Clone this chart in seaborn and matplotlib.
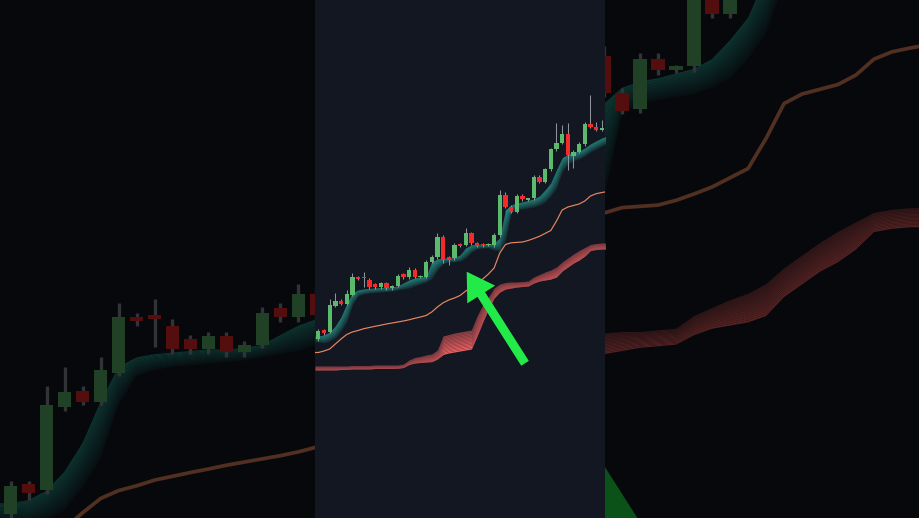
import numpy as np
import matplotlib
matplotlib.use("Agg")
import matplotlib.pyplot as plt
import seaborn as sns
from matplotlib.patches import FancyArrow, Rectangle
from matplotlib.transforms import IdentityTransform

sns.set_theme(style="dark")
plt.rcParams['font.family'] = ['DejaVu Sans']

# ---------------- data (price units) ----------------
opens = [178.7, 188.0, 186.3, 212.3, 217.3, 214.0, 223.0, 240.7, 241.5, 238.0,
         233.7, 230.7, 234.7, 229.7, 232.0, 243.7, 240.7, 248.0, 241.0, 241.3,
         256.3, 260.7, 280.7, 260.7, 259.7, 273.7, 273.0, 284.7, 274.7, 273.5,
         273.2, 273.0, 283.0, 323.0, 311.3, 306.3, 322.0, 318.5, 319.7, 341.3,
         336.3, 348.7, 368.7, 375.3, 383.7, 362.0, 366.3, 374.0, 394.0, 391.3,
         388.5, 388.0]
closes = [187.3, 185.3, 213.0, 217.0, 214.0, 224.0, 240.7, 239.3, 240.0, 230.7,
          230.7, 234.7, 229.7, 232.0, 242.0, 240.7, 248.0, 241.3, 241.7, 256.3,
          261.3, 280.7, 258.0, 258.0, 273.0, 272.3, 284.7, 274.7, 272.0, 272.8,
          274.0, 283.0, 323.0, 311.3, 305.7, 322.0, 318.7, 319.0, 341.3, 336.3,
          348.7, 368.7, 375.3, 383.7, 363.0, 366.3, 374.0, 394.0, 391.3, 388.0,
          389.0, 385.0]
highs = [189, 189, 219, 225, 219, 228, 245, 242, 246.3, 240,
         235, 236, 236, 233, 244, 245, 251, 250, 243, 258,
         263, 284.7, 283, 262, 275, 275, 289.7, 286, 276, 275,
         275, 285, 328, 326, 313, 324, 324, 320, 343, 343,
         350, 370, 394.7, 393, 394.7, 368, 376, 396, 423, 396.3,
         398, 390]
lows = [177, 183, 185, 211, 213, 213, 222, 238, 231.3, 229,
        229, 229, 228, 228, 231, 239, 239, 240, 240, 240,
        255, 259, 254.7, 253, 258, 271, 272, 273, 271, 271.5,
        272, 271, 281, 310, 304.7, 305, 317, 317.5, 318, 335,
        335, 347, 367, 374, 348, 349.7, 365, 372, 390, 387,
        387, 383]

teal_top = [182, 183, 186, 192, 201, 214, 225, 228, 229, 229.5,
            230, 230.5, 230.5, 231, 232, 235, 238, 240, 241, 241.5,
            256, 259, 260, 260, 260.5, 263, 270, 273, 273.5, 274,
            274, 275, 280, 308, 313, 315, 316, 317.5, 319, 322,
            328, 335, 348, 360, 364, 365.5, 367, 370, 374, 377,
            380, 382]
teal_bot = [176, 175, 177, 180, 187, 196, 213, 222, 224, 225,
            225.5, 226, 226.5, 227, 228, 229, 230, 232, 234, 236,
            239, 248, 254, 256, 256, 257, 260, 266, 269, 270,
            270, 268, 267, 278, 305, 308, 309, 310, 311, 313,
            316, 322, 330, 346, 354, 357, 359, 362, 366, 369,
            372, 375]

orange_line = [165.5, 167, 169, 174, 179, 183.5, 186, 187.5, 189.3, 190.5,
               191.7, 192.8, 194, 195, 196, 197, 198.2, 199.7, 201, 202.5,
               206, 211, 215.2, 218, 220, 222.5, 227, 230.5, 234.5, 239,
               244, 250, 265, 273.5, 275.2, 275.6, 276, 277.5, 279.5, 281.7,
               284.6, 287.5, 297, 308, 311, 312.5, 314, 317, 322, 324.3,
               325.5, 326.5]

red_top = [152, 152, 152, 152, 152, 152, 152.5, 152.5, 152.5, 152.5,
           153, 153, 153, 153, 153, 154, 158, 160.5, 161.5, 163,
           164, 168, 182, 183.5, 185, 186, 187, 188, 202, 213,
           221, 230, 234, 235.5, 236, 236, 236.5, 237, 241, 243.5,
           246, 248, 251, 256, 260, 264, 267.5, 270.5, 273.5, 274.5,
           275, 275]
red_bot = [148, 148, 148, 148, 148.5, 148.5, 149, 149, 149, 149,
           149.5, 149.5, 149.5, 149.5, 149.7, 150.5, 153.5, 155, 155.5, 156,
           156.3, 159, 163.5, 165, 166, 167, 168, 169, 182, 196,
           209, 220, 226, 229, 230, 231, 231.5, 232, 235, 237,
           238, 239, 241, 247, 251, 255, 258, 262, 267.5, 268.5,
           269, 269]

# annotation arrow (bar index, price): tail -> tip
arrow_tail = (36.45, 154.7)
arrow_tip = (26.17, 246.3)

# ---------------- styling ----------------
BG = '#131722'
GREEN = '#5cba6c'
RED = '#f52a2a'
WICK = '#8d929b'
TEAL = '#29a596'
SALMON = '#f26262'
ORANGE = '#e8875f'
ARROW = '#22ea48'

W, H = 920, 518
PANEL_L, PANEL_W = 315, 290
SCALE = W / PANEL_W
X_LIM = (-0.59, 50.56)
Y_LIM = (0, 518)
vis = H / SCALE
mid = (Y_LIM[0] + Y_LIM[1]) / 2
BG_Y_LIM = (mid - vis / 2, mid + vis / 2)

idx = np.arange(len(opens))
o = np.array(opens); c = np.array(closes)
hi = np.array(highs); lo = np.array(lows)

# indicator series are carried flat to the left edge of the panel
x_ext = np.r_[X_LIM[0], idx]


def ext(v):
    v = np.asarray(v, float)
    return np.r_[v[0], v]


def grad_band(ax, x, top, bot, color, a_top, a_bot, n=14, z=2):
    top = np.asarray(top, float); bot = np.asarray(bot, float)
    for k in range(n):
        y0 = top + (bot - top) * k / n
        y1 = top + (bot - top) * (k + 1) / n
        a = a_top + (a_bot - a_top) * (k + 0.5) / n
        ax.fill_between(x, y0, y1, color=color, alpha=a, lw=0, zorder=z)


def style(ax):
    ax.set_facecolor(BG)
    ax.grid(False)
    ax.tick_params(left=False, bottom=False, labelleft=False, labelbottom=False)
    for s in ax.spines.values():
        s.set_visible(False)
    ax.set_xlabel(''); ax.set_ylabel('')


def draw(ax, k):
    grad_band(ax, x_ext, ext(teal_top), ext(teal_bot), TEAL, 0.9, 0.12, z=2)
    grad_band(ax, x_ext, ext(red_top), ext(red_bot), SALMON, 0.5, 1.0, z=2)
    sns.lineplot(x=x_ext, y=ext(orange_line), ax=ax, color=ORANGE, lw=0.85 * k,
                 zorder=3, legend=False)
    ax.vlines(idx, lo, hi, color=WICK, lw=0.75 * k, zorder=4)
    up = c >= o
    bottom = np.minimum(o, c)
    height = np.maximum(np.abs(c - o), 1.3)
    cols = np.where(up, GREEN, RED)
    ax.bar(idx, height, bottom=bottom, width=0.76, color=cols, lw=0, zorder=5)


fig = plt.figure(figsize=(9.2, 5.18), dpi=100)
fig.patch.set_facecolor('#06080c')

# zoomed, darkened background copy
ax_bg = fig.add_axes([0, 0, 1, 1])
style(ax_bg)
draw(ax_bg, SCALE)
ax_bg.set_xlim(*X_LIM)
ax_bg.set_ylim(*BG_Y_LIM)

# main chart panel
ax = fig.add_axes([PANEL_L / W, 0, PANEL_W / W, 1])
style(ax)
draw(ax, 1.0)
ax.set_xlim(*X_LIM)
ax.set_ylim(*Y_LIM)


def add_arrow(a, k, z):
    p0 = a.transData.transform(arrow_tail)
    p1 = a.transData.transform(arrow_tip)
    arr = FancyArrow(p0[0], p0[1], p1[0] - p0[0], p1[1] - p0[1],
                     width=9 * k, head_width=33 * k, head_length=27 * k,
                     length_includes_head=True, color=ARROW, lw=0,
                     transform=IdentityTransform(), zorder=z)
    a.add_patch(arr)


add_arrow(ax_bg, SCALE, 8)
add_arrow(ax, 1.0, 8)

ax_bg.add_patch(Rectangle((0, 0), 1, 1, transform=ax_bg.transAxes,
                          color='black', alpha=0.65, lw=0, zorder=50))

fig.savefig('out.png', dpi=100, facecolor=fig.get_facecolor())
